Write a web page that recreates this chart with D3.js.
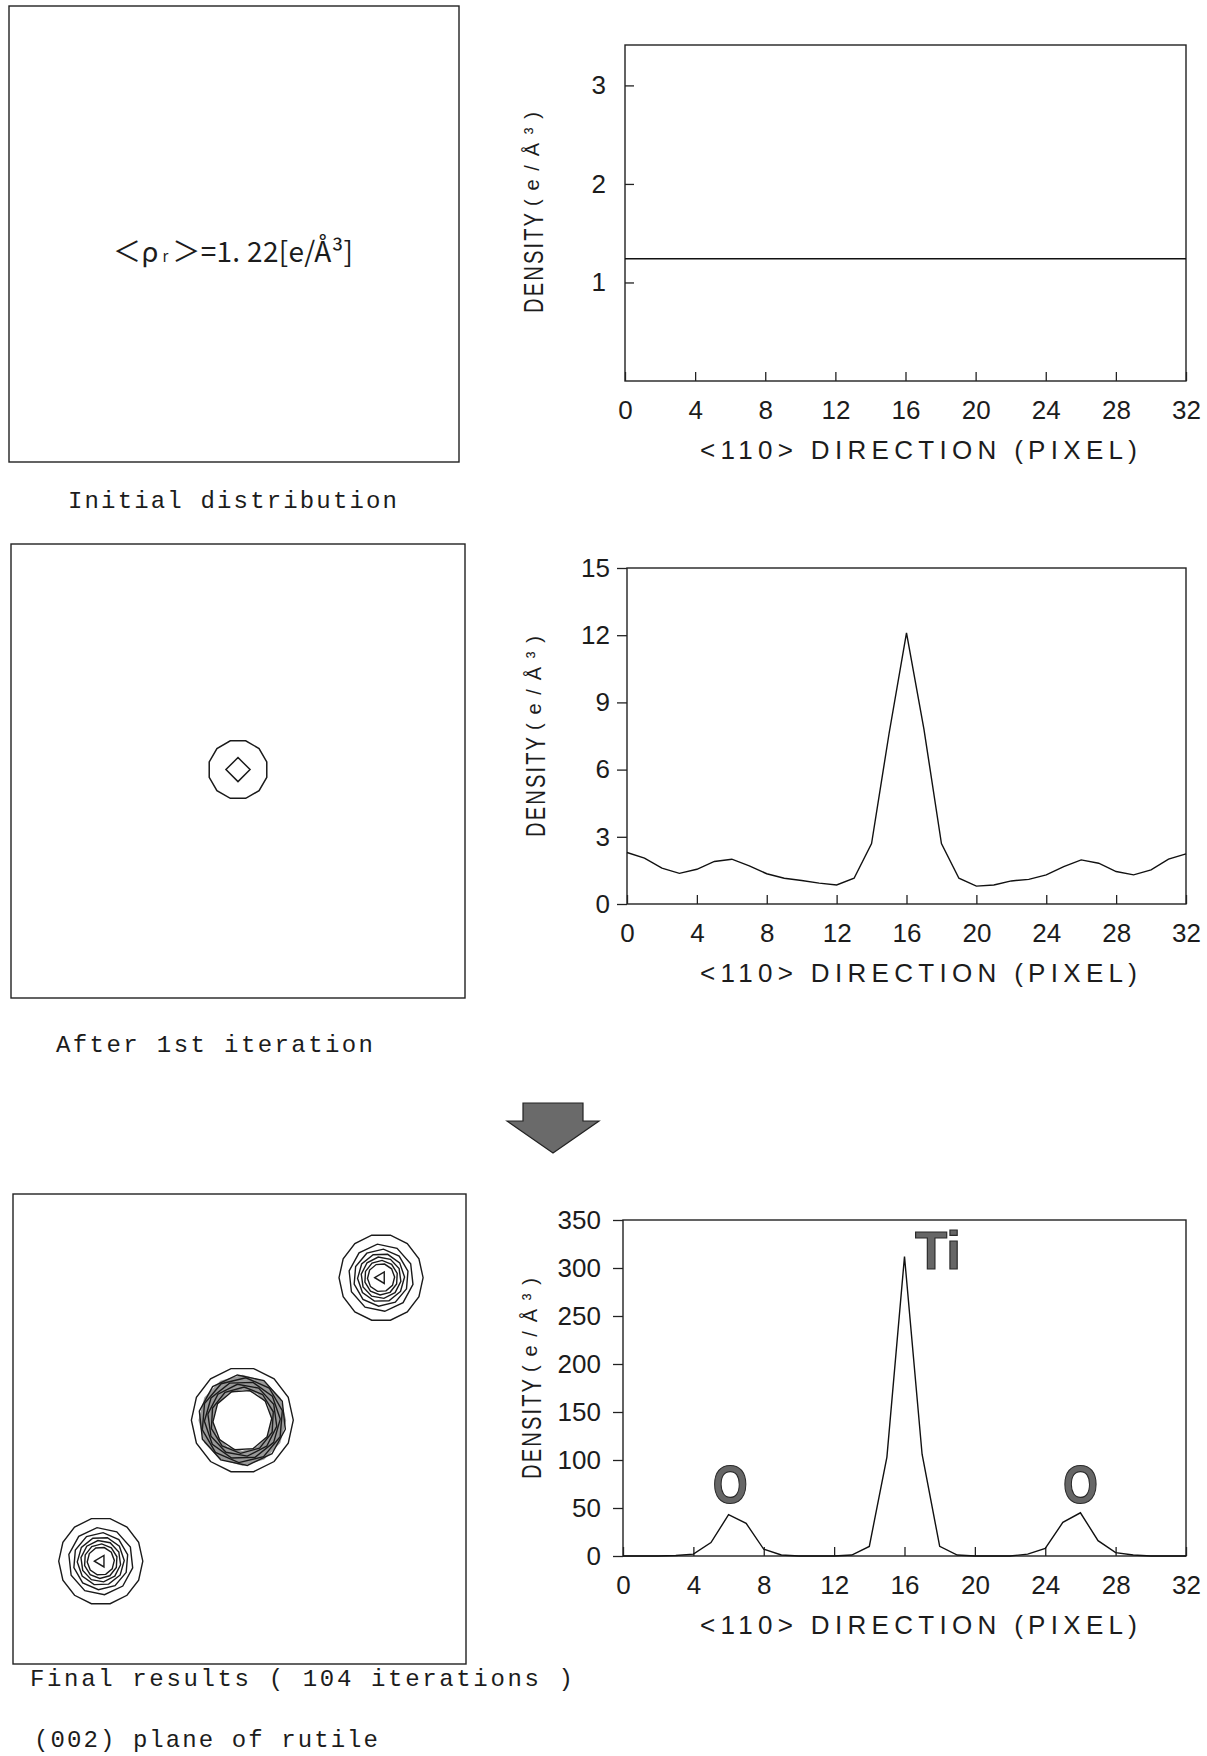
<!DOCTYPE html>
<html>
<head>
<meta charset="utf-8">
<script src="https://cdn.jsdelivr.net/npm/d3@7"></script>
<style>
  body { margin: 0; background: #fff; }
  svg text { fill: #1c1c1c; }
</style>
</head>
<body>
<svg id="chart" width="1207" height="1756"></svg>
<script>
// pixel index along <110> and tick labels
const pixels = [0, 1, 2, 3, 4, 5, 6, 7, 8, 9, 10, 11, 12, 13, 14, 15, 16,
  17, 18, 19, 20, 21, 22, 23, 24, 25, 26, 27, 28, 29, 30, 31, 32];
const xTickValues = [0, 4, 8, 12, 16, 20, 24, 28, 32];

// initial (flat) distribution
const initialPixels = [0, 32];
const initialDensity = [1.24, 1.24];
const initialTicks = [1, 2, 3];

// after 1st iteration
const firstIterDensity = [2.3, 2.05, 1.6, 1.37, 1.55, 1.9, 2.0, 1.7, 1.35, 1.15, 1.05,
  0.93, 0.85, 1.15, 2.7, 7.6, 12.1, 7.8, 2.7, 1.15, 0.8, 0.85, 1.03, 1.1, 1.3, 1.67,
  1.97, 1.82, 1.45, 1.3, 1.52, 2.0, 2.24];
const firstIterTicks = [0, 3, 6, 9, 12, 15];

// final result (104 iterations)
const finalDensity = [0, 0, 0, 0.5, 2, 14, 43, 34, 7, 1, 0, 0, 0, 1, 10, 103, 312,
  106, 10, 1, 0, 0, 0, 2, 8, 35, 45, 16, 3.5, 1, 0, 0, 0];
const finalTicks = [0, 50, 100, 150, 200, 250, 300, 350];

// contour maps (positions in pixel units, radii of contour levels in pixel units)
const iterAtomX = [16];
const iterAtomY = [15.9];
const iterRadii = [2.1, 0.85];
const iterSides = [12, 4];

const finalAtomNames = ["O", "Ti", "O"];
const finalAtomX = [6.2, 16.2, 26.0];
const finalAtomY = [25.0, 15.4, 5.7];
const oxygenRadii = [2.97, 2.3, 1.95, 1.66, 1.42, 1.18, 0.96, 0.45];
const titaniumRadii = [3.6, 3.1, 2.9, 2.68, 2.47, 2.26, 2.08];

// element labels on the final profile (pixel, density at baseline)
const labelNames = ["O", "Ti", "O"];
const labelPixels = [6.1, 17.9, 26.0];
const labelDensity = [55, 299, 55];

const svg = d3.select("#chart");

// ---------- left panels (contour maps) ----------
function mapBox(left, top, right, bottom) {
  svg.append("rect")
    .attr("x", left).attr("y", top)
    .attr("width", right - left).attr("height", bottom - top)
    .attr("fill", "none").attr("stroke", "#222").attr("stroke-width", 1.4);
  return {
    x: d3.scaleLinear().domain([0, 32]).range([left, right]),
    y: d3.scaleLinear().domain([0, 32]).range([top, bottom])
  };
}

function ring(sc, cx, cy, r, sides, rot) {
  const pts = d3.range(sides).map(i => {
    const a = rot + i * 2 * Math.PI / sides;
    return [sc.x(cx + r * Math.cos(a)), sc.y(cy + r * Math.sin(a))];
  });
  return d3.line().curve(d3.curveLinearClosed)(pts);
}

function caption(txt, x, y, len) {
  svg.append("text")
    .attr("x", x).attr("y", y)
    .attr("textLength", len).attr("lengthAdjust", "spacing")
    .style("font-family", "'Liberation Mono', 'DejaVu Sans Mono', monospace")
    .style("font-size", "24px")
    .text(txt);
}

// panel 1
mapBox(9, 6, 459, 462);
const rhoText = svg.append("text")
  .attr("x", 113).attr("y", 262)
  .attr("textLength", 240).attr("lengthAdjust", "spacing")
  .style("font-family", "'Noto Sans CJK JP', 'DejaVu Sans', sans-serif")
  .style("font-size", "28px");
rhoText.append("tspan").text("＜ρ");
rhoText.append("tspan").style("font-size", "15px").text(" r ");
rhoText.append("tspan").text("＞=1. 22[e/Å³]");
caption("Initial distribution", 68, 508, 329);

// panel 3
const sc3 = mapBox(11, 544, 465, 998);
iterRadii.forEach((r, i) => {
  svg.append("path")
    .attr("d", ring(sc3, iterAtomX[0], iterAtomY[0], r, iterSides[i], iterSides[i] === 4 ? 0 : Math.PI / 12))
    .attr("fill", "none").attr("stroke", "#1a1a1a").attr("stroke-width", 1.5);
});
caption("After 1st iteration", 56, 1052, 317);

// arrow
svg.append("path")
  .attr("d", "M523,1103 L583,1103 L583,1121 L599,1121 L553,1153 L507,1121 L523,1121 Z")
  .attr("fill", "#6a6a6a").attr("stroke", "#222").attr("stroke-width", 1.2);

// panel 5
const sc5 = mapBox(13, 1194, 466, 1664);
finalAtomNames.forEach((name, k) => {
  const radii = name === "Ti" ? titaniumRadii : oxygenRadii;
  if (name === "Ti") {
    // crowded contour band shows as grey ring
    const outer = ring(sc5, finalAtomX[k], finalAtomY[k], radii[1], 12, 0);
    const inner = ring(sc5, finalAtomX[k], finalAtomY[k], radii[radii.length - 1], 12, 0);
    svg.append("path").attr("d", outer + inner)
      .attr("fill", "#9a9a9a").attr("fill-rule", "evenodd");
  }
  radii.forEach((r, i) => {
    const sides = i === radii.length - 1 && name === "O" ? 3 : (i === 0 ? 14 : 10);
    svg.append("path")
      .attr("d", ring(sc5, finalAtomX[k], finalAtomY[k], r, sides, name === "O" && sides === 3 ? Math.PI : i * 0.2))
      .attr("fill", "none").attr("stroke", "#1a1a1a").attr("stroke-width", 1.4);
  });
});
caption("Final results  ( 104 iterations )", 30, 1686, 543);
caption("(002) plane of rutile", 34, 1747, 344);

// ---------- right panels (line profiles) ----------
function profile(cfg) {
  const x = d3.scaleLinear().domain([0, 32]).range([cfg.left, cfg.right]);
  const y = d3.scaleLinear().domain(cfg.yDomain).range([cfg.bottom, cfg.top]);

  svg.append("rect")
    .attr("x", cfg.left).attr("y", cfg.top)
    .attr("width", cfg.right - cfg.left).attr("height", cfg.bottom - cfg.top)
    .attr("fill", "none").attr("stroke", "#222").attr("stroke-width", 1.4);

  const xAxis = svg.append("g")
    .attr("transform", `translate(0,${cfg.bottom})`)
    .call(d3.axisBottom(x).tickValues(xTickValues).tickSizeInner(-9).tickSizeOuter(0).tickPadding(20));
  const yAxis = svg.append("g")
    .attr("transform", `translate(${cfg.left},0)`)
    .call(d3.axisLeft(y).tickValues(cfg.yTicks).tickFormat(d3.format("d"))
      .tickSizeInner(cfg.yTickSize).tickSizeOuter(0).tickPadding(cfg.yPad));

  [xAxis, yAxis].forEach(g => {
    g.select(".domain").remove();
    g.selectAll(".tick line").attr("stroke", "#222").attr("stroke-width", 1.3);
    g.selectAll(".tick text")
      .style("font-family", "'Liberation Sans', Arial, sans-serif")
      .style("font-size", "26px")
      .attr("fill", "#1c1c1c");
  });

  svg.append("path")
    .datum(cfg.xs.map((v, i) => [v, cfg.ys[i]]))
    .attr("d", d3.line().x(d => x(d[0])).y(d => y(d[1])))
    .attr("fill", "none").attr("stroke", "#111").attr("stroke-width", 1.4);

  // x title
  svg.append("text")
    .attr("x", 700).attr("y", cfg.bottom + 78)
    .attr("textLength", 437).attr("lengthAdjust", "spacing")
    .style("font-family", "'Liberation Sans', Arial, sans-serif")
    .style("font-size", "26px")
    .text("<110> DIRECTION (PIXEL)");

  // y title, two parts read bottom to top; DENSITY in narrow, spaced letters
  const yt = svg.append("g")
    .attr("transform", `translate(${cfg.titleX},${cfg.titleY}) rotate(-90)`);
  yt.append("g").attr("transform", "scale(0.72,1)")
    .append("text")
    .attr("x", -101 / 0.72).attr("dy", "0.36em")
    .attr("textLength", 100 / 0.72).attr("lengthAdjust", "spacing")
    .style("font-family", "'Liberation Sans', Arial, sans-serif")
    .style("font-size", "28px")
    .text("DENSITY");
  yt.append("text")
    .attr("x", 6).attr("dy", "0.3em")
    .attr("textLength", 94).attr("lengthAdjust", "spacing")
    .style("font-family", "'Liberation Sans', Arial, sans-serif")
    .style("font-size", "20px")
    .text("(e/Å³)");

  return { x, y };
}

profile({
  left: 625, right: 1186, top: 45, bottom: 381,
  yDomain: [0, 3.41], yTicks: initialTicks, yTickSize: -9, yPad: 19,
  xs: initialPixels, ys: initialDensity, titleX: 533, titleY: 212
});

profile({
  left: 627, right: 1186, top: 568, bottom: 904,
  yDomain: [0, 15], yTicks: firstIterTicks, yTickSize: 10, yPad: 7,
  xs: pixels, ys: firstIterDensity, titleX: 535, titleY: 736
});

const p6 = profile({
  left: 623, right: 1186, top: 1220, bottom: 1556,
  yDomain: [0, 350], yTicks: finalTicks, yTickSize: 10, yPad: 12,
  xs: pixels, ys: finalDensity, titleX: 531, titleY: 1378
});

// atom labels on the final profile
labelNames.forEach((t, i) => {
  svg.append("text")
    .attr("x", p6.x(labelPixels[i])).attr("y", p6.y(labelDensity[i]))
    .attr("text-anchor", "middle")
    .attr("textLength", t === "Ti" ? 46 : 35).attr("lengthAdjust", "spacingAndGlyphs")
    .style("font-family", "'Liberation Sans', Arial, sans-serif")
    .style("font-weight", "bold")
    .style("font-size", "54px")
    .style("fill", "#666")
    .attr("stroke", "#2a2a2a").attr("stroke-width", 1.2)
    .text(t);
});
</script>
</body>
</html>
